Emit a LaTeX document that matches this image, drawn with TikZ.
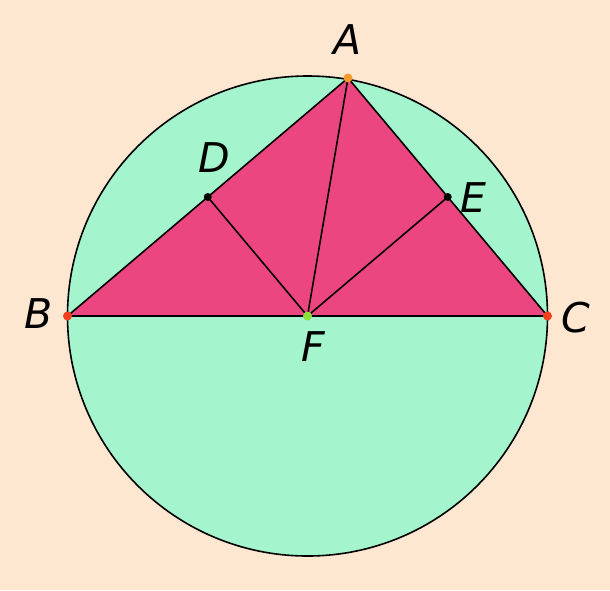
\documentclass[tikz,border=0pt]{standalone}
\usepackage{fontspec}
\setmainfont{DejaVu Sans}
\usetikzlibrary{calc}
\begin{document}
\begin{tikzpicture}[x=1pt,y=-1pt,
  seg/.style={draw=black,line width=1.6pt},
  lbl/.style={font=\fontsize{41}{41}\selectfont\itshape,inner sep=0pt},
  pt/.style={circle,inner sep=0pt,minimum size=9pt}]
\definecolor{bgc}{HTML}{FDE7D1}
\definecolor{mint}{HTML}{A4F5CE}
\definecolor{rose}{HTML}{EC4680}
\definecolor{ptA}{HTML}{F39A2C}
\definecolor{ptBC}{HTML}{F0401C}
\definecolor{ptF}{HTML}{8CE03C}
\fill[bgc] (0,0) rectangle (610,590);
\useasboundingbox (0,0) rectangle (610,590);
\coordinate (O) at (307.5,316);
\coordinate (A) at (348,78);
\coordinate (B) at (67.5,316);
\coordinate (C) at (547.5,316);
\coordinate (F) at (307.5,316);
\coordinate (D) at ($(A)!0.5!(B)$);
\coordinate (E) at ($(A)!0.5!(C)$);
\fill[mint] (O) circle (240);
\draw[line width=1.6pt] (O) circle (240);
\fill[rose] (A) -- (B) -- (C) -- cycle;
\draw[seg] (A) -- (B) -- (C) -- cycle;
\draw[seg] (A) -- (F);
\draw[seg] (D) -- (F) -- (E);
\node[pt,fill=ptA] (pA) at (A) {};
\node[pt,fill=ptBC] (pB) at (B) {};
\node[pt,fill=ptBC] (pC) at (C) {};
\node[pt,fill=ptF] (pF) at (F) {};
\node[pt,fill=black,minimum size=8pt] (pD) at (D) {};
\node[pt,fill=black,minimum size=8pt] (pE) at (E) {};
\node[lbl] (lA) at (348,40) {A};
\node[lbl] (lB) at (39,314) {B};
\node[lbl] (lC) at (576,318) {C};
\node[lbl] (lD) at (214,158) {D};
\node[lbl] (lE) at (473,198) {E};
\node[lbl] (lF) at (313,347) {F};
\end{tikzpicture}
\end{document}
